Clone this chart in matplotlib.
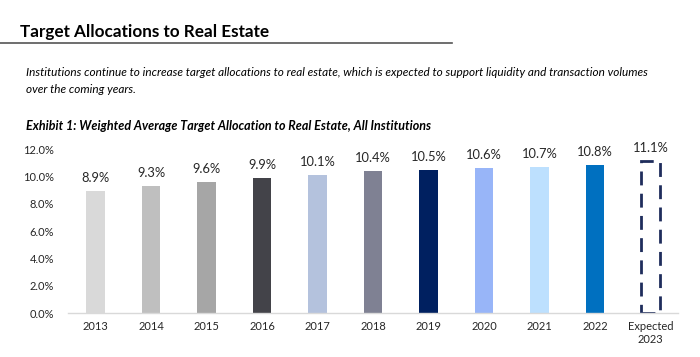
import matplotlib
matplotlib.use("Agg")
import matplotlib.pyplot as plt
from matplotlib.lines import Line2D

categories = ["2013", "2014", "2015", "2016", "2017", "2018", "2019", "2020", "2021", "2022", "Expected\n2023"]
values = [8.9, 9.3, 9.6, 9.9, 10.1, 10.4, 10.5, 10.6, 10.7, 10.8, 11.1]
value_labels = ["8.9%", "9.3%", "9.6%", "9.9%", "10.1%", "10.4%", "10.5%", "10.6%", "10.7%", "10.8%", "11.1%"]
colors = ["#d9d9d9", "#bfbfbf", "#a6a6a6", "#434349", "#b4c2dd", "#7f8193",
          "#002060", "#98b5f8", "#bde0fe", "#0070c0", "none"]
yticks = [0, 2, 4, 6, 8, 10, 12]

plt.rcParams['font.family'] = ['Lato', 'DejaVu Sans']

fig = plt.figure(figsize=(7, 3.57), dpi=100)
ax = fig.add_axes([0.097, 0.1232, 0.872, 0.4594])

x = list(range(len(categories)))
for i, (v, c) in enumerate(zip(values, colors)):
    if c == "none":
        ax.bar(i, v, width=0.33, facecolor="none", edgecolor="#1f2d5c",
               linewidth=2.0, linestyle=(0, (5, 3)))
    else:
        ax.bar(i, v, width=0.33, color=c, edgecolor="none")
    ax.annotate(value_labels[i], (i, v), xytext=(0, 5), textcoords="offset points",
                ha="center", va="bottom", fontsize=9.3, color="#262626")

ax.set_xlim(-0.5, len(categories) - 0.5)
ax.set_ylim(0, 12)
ax.set_yticks(yticks)
ax.set_yticklabels([f"{t:.1f}%" for t in yticks])
ax.set_xticks(x)
ax.set_xticklabels(categories)
ax.tick_params(axis="both", length=0, labelsize=8, colors="#262626")
ax.tick_params(axis="y", pad=10)
ax.tick_params(axis="x", pad=6)
for s in ["top", "right", "left"]:
    ax.spines[s].set_visible(False)
ax.spines["bottom"].set_color("#d9d9d9")
ax.spines["bottom"].set_linewidth(1)

fig.text(20/700, 1 - 36.7/357, "Target Allocations to Real Estate", fontsize=12.3,
         fontweight="bold", color="black", va="baseline")
fig.add_artist(Line2D([0, 452/700], [1 - 42.7/357, 1 - 42.7/357], color="#555555", linewidth=1.2))
fig.text(26/700, 1 - 76/357,
         "Institutions continue to increase target allocations to real estate, which is expected to support liquidity and transaction volumes",
         fontsize=8.44, style="italic", color="black", va="baseline")
fig.text(26/700, 1 - 93/357, "over the coming years.",
         fontsize=8.44, style="italic", color="black", va="baseline")
fig.text(26/700, 1 - 130/357, "Exhibit 1: Weighted Average Target Allocation to Real Estate, All Institutions",
         fontsize=9.0, style="italic", fontweight="bold", color="black", va="baseline")

fig.savefig("out.png", dpi=100)
